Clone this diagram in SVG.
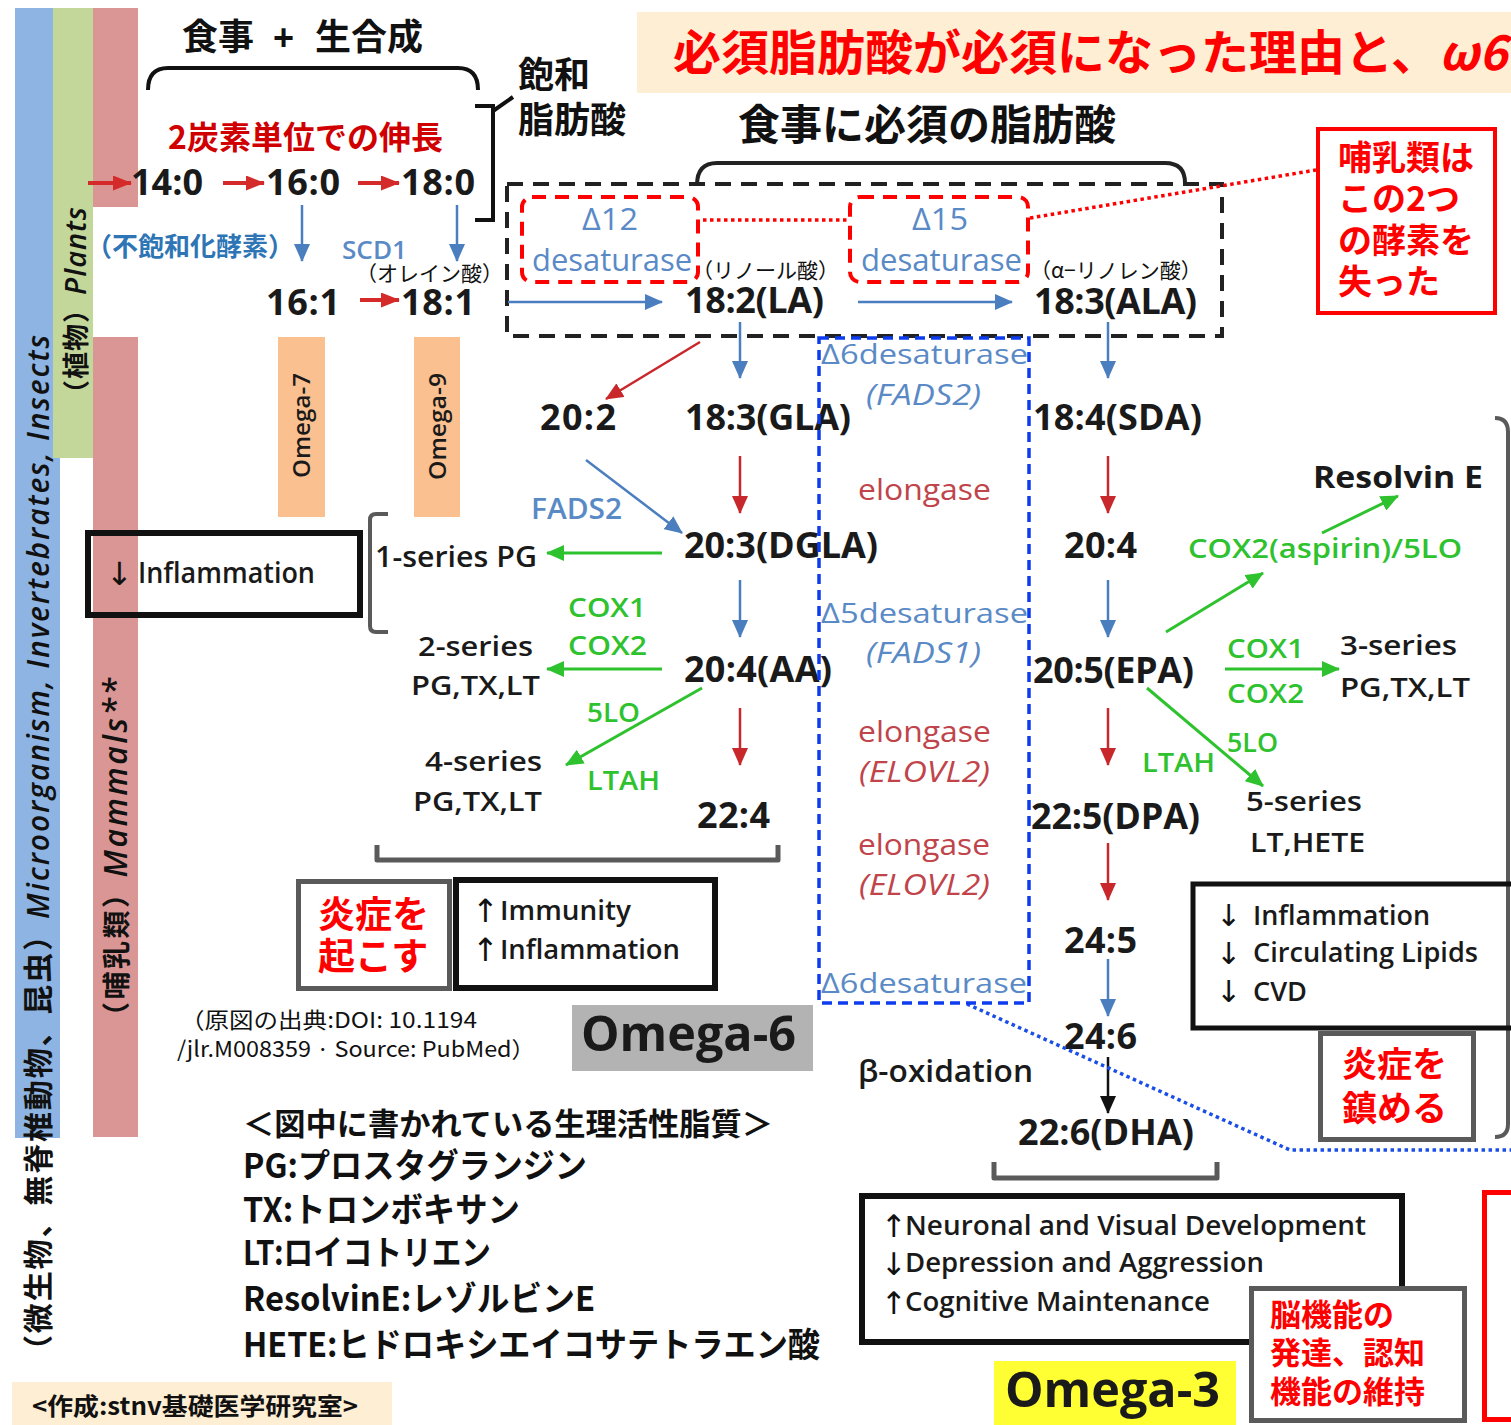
<svg xmlns="http://www.w3.org/2000/svg" width="1511" height="1425" viewBox="0 0 1511 1425">
<defs>
<style>
.num{font-family:"Open Sans","Liberation Sans",sans-serif;font-weight:700;font-size:36px;fill:#1a1a1a;}
.lab{font-family:"Open Sans","Liberation Sans",sans-serif;font-weight:600;font-size:27px;fill:#1a1a1a;}
.lbu{font-family:"Open Sans","Liberation Sans",sans-serif;font-size:27px;fill:#5a8ac6;}
.lrd{font-family:"Open Sans","Liberation Sans",sans-serif;font-size:27px;fill:#c0444a;}
.lgr{font-family:"Open Sans","Liberation Sans",sans-serif;font-weight:600;font-size:27px;fill:#2fc22f;}
.jp{font-family:"Noto Sans CJK JP","Noto Sans CJK SC",sans-serif;font-weight:700;fill:#111;}
.jpr{font-family:"Noto Sans CJK JP","Noto Sans CJK SC",sans-serif;font-weight:400;fill:#111;}
.red{fill:#ff0000;}
.ar{font-family:"DejaVu Sans",sans-serif;font-weight:400;fill:#111;}
.it{font-style:italic;}
.cb{fill:none;stroke:#4a7ebf;stroke-width:2.5;marker-end:url(#mB);}
.cr{fill:none;stroke:#c8282c;stroke-width:2.5;marker-end:url(#mR);}
.crl{fill:none;stroke:#d42a2a;stroke-width:4;marker-end:url(#mRL);}
.cg{fill:none;stroke:#2ec22e;stroke-width:3;marker-end:url(#mG);}
.ck{fill:none;stroke:#111;stroke-width:2.5;marker-end:url(#mK);}
.brk{fill:none;stroke:#5a5a5a;stroke-width:5;stroke-linejoin:round;}
.box{fill:none;stroke:#111;stroke-width:6;}
.gbox{fill:#fff;stroke:#5a5a5a;stroke-width:5;}
</style>
<marker id="mB" viewBox="0 0 18 16" markerUnits="userSpaceOnUse" markerWidth="18" markerHeight="16" refX="17" refY="8" orient="auto"><path d="M0,0 L18,8 L0,16 z" fill="#4a7ebf"/></marker>
<marker id="mR" viewBox="0 0 18 16" markerUnits="userSpaceOnUse" markerWidth="18" markerHeight="16" refX="17" refY="8" orient="auto"><path d="M0,0 L18,8 L0,16 z" fill="#c8282c"/></marker>
<marker id="mRL" viewBox="0 0 19 15" markerUnits="userSpaceOnUse" markerWidth="19" markerHeight="15" refX="18" refY="7.5" orient="auto"><path d="M0,0 L19,7.5 L0,15 z" fill="#d42a2a"/></marker>
<marker id="mG" viewBox="0 0 18 16" markerUnits="userSpaceOnUse" markerWidth="18" markerHeight="16" refX="17" refY="8" orient="auto"><path d="M0,0 L18,8 L0,16 z" fill="#2ec22e"/></marker>
<marker id="mK" viewBox="0 0 18 16" markerUnits="userSpaceOnUse" markerWidth="18" markerHeight="16" refX="17" refY="8" orient="auto"><path d="M0,0 L18,8 L0,16 z" fill="#111"/></marker>
</defs>

<rect x="0" y="0" width="1511" height="1425" fill="#ffffff"/>

<g id="bars">
<rect x="15" y="8" width="45" height="1130" fill="#8db4e2"/>
<rect x="53" y="8" width="40" height="450" fill="#c4d79b"/>
<rect x="93" y="8" width="45" height="199" fill="#da9694"/>
<rect x="93" y="337" width="45" height="800" fill="#da9694"/>
<rect x="278" y="337" width="47" height="180" fill="#fac090"/>
<rect x="414" y="337" width="46" height="180" fill="#fac090"/>
</g>
<g id="bar-microorganism"><text class="jp" style="font-size:30px" transform="translate(49,1365) rotate(-90)" textLength="1030" lengthAdjust="spacing">（微生物、無脊椎動物、昆虫）<tspan class="it" style="font-family:'Open Sans','Liberation Sans',sans-serif;font-weight:600">Microorganism, Invertebrates, Insects</tspan></text></g>
<g id="bar-plants"><text class="jp" style="font-size:27px" transform="translate(86,407) rotate(-90)" textLength="200" lengthAdjust="spacing">（植物）<tspan class="it" style="font-family:'Open Sans','Liberation Sans',sans-serif;font-weight:600;font-size:29px">Plants</tspan></text></g>
<g id="bar-mammals"><text class="jp" style="font-size:28px" transform="translate(127,1030) rotate(-90)" textLength="352" lengthAdjust="spacing">（哺乳類）<tspan class="it" style="font-family:'Open Sans','Liberation Sans',sans-serif;font-weight:600;font-size:32px">Mammals**</tspan></text></g>
<g id="omega7"><text class="lab" style="font-size:24px" transform="translate(310,478) rotate(-90)" textLength="105" lengthAdjust="spacingAndGlyphs">Omega-7</text></g>
<g id="omega9"><text class="lab" style="font-size:24px" transform="translate(446,480) rotate(-90)" textLength="107" lengthAdjust="spacingAndGlyphs">Omega-9</text></g>

<g id="title">
<rect x="637" y="12" width="874" height="81" fill="#fdeed4"/>
<text class="jp red" style="font-size:48px" x="673" y="70">必須脂肪酸が必須になった理由と、<tspan class="it">ω6</tspan></text>
</g>

<g id="diet-biosynthesis">
<text class="jp" style="font-size:36px" y="50"><tspan x="182">食事</tspan><tspan x="273" style="font-family:'Liberation Sans',sans-serif">+</tspan><tspan x="315">生合成</tspan></text>
<path d="M148,90 Q148,68 168,68 L458,68 Q478,68 478,90" fill="none" stroke="#111" stroke-width="4"/>
</g>
<g id="saturated-fa">
<text class="jp" style="font-size:36px" x="518" y="88">飽和</text>
<text class="jp" style="font-size:36px" x="518" y="133">脂肪酸</text>
<path d="M475,106 L493,106 L493,220 L475,220 M493,111 L513,97" fill="none" stroke="#111" stroke-width="4"/>
</g>
<g id="elongation-label"><text class="jp" x="168" y="149" style="font-size:32px;fill:#d00000">2炭素単位での伸長</text></g>
<g id="essential-label">
<text class="jp" style="font-size:42px" x="738" y="140">食事に必須の脂肪酸</text>
<path d="M697,185 Q697,163 717,163 L1165,163 Q1185,163 1185,183" fill="none" stroke="#222" stroke-width="4"/>
</g>

<g id="n14-0"><text class="num" x="131" y="195" textLength="72">14:0</text></g>
<g id="n16-0"><text class="num" x="266" y="195" textLength="74">16:0</text></g>
<g id="n18-0"><text class="num" x="401" y="195" textLength="74">18:0</text></g>
<g id="n16-1"><text class="num" x="266" y="315" textLength="74">16:1</text></g>
<g id="n18-1"><text class="num" x="401" y="315" textLength="74">18:1</text><text class="jpr" style="font-size:21px" x="356" y="281">（オレイン酸）</text></g>
<g id="n18-2"><text class="num" x="685" y="313" textLength="139">18:2(LA)</text><text class="jpr" style="font-size:21px" x="692" y="278">（リノール酸）</text></g>
<g id="n18-3ala"><text class="num" x="1034" y="314" textLength="163">18:3(ALA)</text><text class="jpr" style="font-size:21px" x="1030" y="278">（α−リノレン酸）</text></g>
<g id="n20-2"><text class="num" x="540" y="430" textLength="76">20:2</text></g>
<g id="n18-3gla"><text class="num" x="685" y="430" textLength="166">18:3(GLA)</text></g>
<g id="n18-4"><text class="num" x="1033" y="430" textLength="169">18:4(SDA)</text></g>
<g id="n20-3"><text class="num" x="684" y="558" textLength="194">20:3(DGLA)</text></g>
<g id="n20-4"><text class="num" x="1064" y="558" textLength="73">20:4</text></g>
<g id="n20-4aa"><text class="num" x="684" y="682" textLength="148">20:4(AA)</text></g>
<g id="n20-5"><text class="num" x="1033" y="683" textLength="161">20:5(EPA)</text></g>
<g id="n22-4"><text class="num" x="697" y="828" textLength="73">22:4</text></g>
<g id="n22-5"><text class="num" x="1031" y="829" textLength="169">22:5(DPA)</text></g>
<g id="n24-5"><text class="num" x="1064" y="953" textLength="73">24:5</text></g>
<g id="n24-6"><text class="num" x="1064" y="1049" textLength="73">24:6</text></g>
<g id="n22-6"><text class="num" x="1018" y="1145" textLength="176">22:6(DHA)</text></g>

<g id="desat-label"><text class="jp" x="86" y="256" style="font-size:26px;fill:#2e75b6">（不飽和化酵素）</text></g>
<g id="scd1"><text class="lbu" style="font-size:26px;font-weight:600" x="342" y="259" textLength="65" lengthAdjust="spacingAndGlyphs">SCD1</text></g>
<g id="d12">
<text class="lbu" style="font-size:31px" x="582" y="230" textLength="56" lengthAdjust="spacingAndGlyphs">Δ12</text>
<text class="lbu" style="font-size:31px" x="532" y="271" textLength="160" lengthAdjust="spacingAndGlyphs">desaturase</text>
</g>
<g id="d15">
<text class="lbu" style="font-size:31px" x="912" y="230" textLength="56" lengthAdjust="spacingAndGlyphs">Δ15</text>
<text class="lbu" style="font-size:31px" x="861" y="271" textLength="161" lengthAdjust="spacingAndGlyphs">desaturase</text>
</g>
<g id="d6-top">
<text class="lbu" style="font-size:28px" x="821" y="364" textLength="207" lengthAdjust="spacingAndGlyphs">Δ6desaturase</text>
<text class="lbu it" style="font-size:29px" x="866" y="405" textLength="115" lengthAdjust="spacingAndGlyphs">(FADS2)</text>
</g>
<g id="elong1"><text class="lrd" style="font-size:29px" x="858" y="500" textLength="133" lengthAdjust="spacingAndGlyphs">elongase</text></g>
<g id="d5">
<text class="lbu" style="font-size:28px" x="821" y="623" textLength="207" lengthAdjust="spacingAndGlyphs">Δ5desaturase</text>
<text class="lbu it" style="font-size:29px" x="866" y="663" textLength="115" lengthAdjust="spacingAndGlyphs">(FADS1)</text>
</g>
<g id="elong2">
<text class="lrd" style="font-size:29px" x="858" y="742" textLength="133" lengthAdjust="spacingAndGlyphs">elongase</text>
<text class="lrd it" style="font-size:29px" x="859" y="782" textLength="131" lengthAdjust="spacingAndGlyphs">(ELOVL2)</text>
</g>
<g id="elong3">
<text class="lrd" style="font-size:29px" x="858" y="855" textLength="132" lengthAdjust="spacingAndGlyphs">elongase</text>
<text class="lrd it" style="font-size:29px" x="859" y="895" textLength="131" lengthAdjust="spacingAndGlyphs">(ELOVL2)</text>
</g>
<g id="d6-bottom"><text class="lbu" style="font-size:28px" x="821" y="993" textLength="206" lengthAdjust="spacingAndGlyphs">Δ6desaturase</text></g>
<g id="fads2"><text class="lbu" style="font-size:28px;font-weight:600" x="531" y="519" textLength="91" lengthAdjust="spacingAndGlyphs">FADS2</text></g>

<g id="series1"><text class="lab" style="font-size:29px" x="375" y="567" textLength="162" lengthAdjust="spacingAndGlyphs">1-series PG</text></g>
<g id="cox-6">
<text class="lgr" x="568" y="617" textLength="78" lengthAdjust="spacingAndGlyphs">COX1</text>
<text class="lgr" x="568" y="655" textLength="79" lengthAdjust="spacingAndGlyphs">COX2</text>
</g>
<g id="series2">
<text class="lab" x="418" y="656" textLength="115" lengthAdjust="spacingAndGlyphs">2-series</text>
<text class="lab" x="411" y="695" textLength="129" lengthAdjust="spacingAndGlyphs">PG,TX,LT</text>
</g>
<g id="lo-6">
<text class="lgr" x="587" y="722" textLength="53" lengthAdjust="spacingAndGlyphs">5LO</text>
<text class="lgr" x="587" y="790" textLength="73" lengthAdjust="spacingAndGlyphs">LTAH</text>
</g>
<g id="series4">
<text class="lab" x="425" y="771" textLength="117" lengthAdjust="spacingAndGlyphs">4-series</text>
<text class="lab" x="413" y="811" textLength="129" lengthAdjust="spacingAndGlyphs">PG,TX,LT</text>
</g>

<g id="resolvin"><text class="num" style="font-size:31px" x="1313" y="488" textLength="170" lengthAdjust="spacingAndGlyphs">Resolvin E</text></g>
<g id="cox2asp"><text class="lgr" x="1188" y="558" textLength="274" lengthAdjust="spacingAndGlyphs">COX2(aspirin)/5LO</text></g>
<g id="cox-3">
<text class="lgr" x="1227" y="658" textLength="77" lengthAdjust="spacingAndGlyphs">COX1</text>
<text class="lgr" x="1227" y="703" textLength="77" lengthAdjust="spacingAndGlyphs">COX2</text>
</g>
<g id="series3">
<text class="lab" x="1340" y="655" textLength="117" lengthAdjust="spacingAndGlyphs">3-series</text>
<text class="lab" x="1340" y="697" textLength="130" lengthAdjust="spacingAndGlyphs">PG,TX,LT</text>
</g>
<g id="lo-3">
<text class="lgr" x="1227" y="752" textLength="51" lengthAdjust="spacingAndGlyphs">5LO</text>
<text class="lgr" x="1142" y="772" textLength="73" lengthAdjust="spacingAndGlyphs">LTAH</text>
</g>
<g id="series5">
<text class="lab" x="1246" y="811" textLength="116" lengthAdjust="spacingAndGlyphs">5-series</text>
<text class="lab" x="1250" y="852" textLength="115" lengthAdjust="spacingAndGlyphs">LT,HETE</text>
</g>
<g id="beta-ox"><text class="lab" style="font-size:30px" x="858" y="1082" textLength="175" lengthAdjust="spacingAndGlyphs">β-oxidation</text></g>

<g id="essential-box">
<rect x="507" y="184" width="715" height="152" fill="none" stroke="#222" stroke-width="4" stroke-dasharray="16 10"/>
</g>
<g id="lost-enzymes">
<rect x="522" y="197" width="176" height="85" rx="10" fill="none" stroke="#ff0000" stroke-width="4" stroke-dasharray="14 9"/>
<rect x="850" y="197" width="178" height="85" rx="10" fill="none" stroke="#ff0000" stroke-width="4" stroke-dasharray="14 9"/>
</g>
<g id="mammals-note">
<rect x="1318" y="129" width="177" height="184" fill="#fff" stroke="#ff0000" stroke-width="4"/>
<text class="jp red" style="font-size:34px" x="1338" y="170">哺乳類は</text>
<text class="jp red" style="font-size:34px" x="1338" y="211">この2つ</text>
<text class="jp red" style="font-size:34px" x="1338" y="253">の酵素を</text>
<text class="jp red" style="font-size:34px" x="1338" y="294">失った</text>
</g>
<g id="inflammation-down">
<rect x="88" y="533" width="272" height="82" class="box"/>
<text class="ar" style="font-size:32px" x="106" y="585">↓</text>
<text class="lab" style="font-size:28px" x="138" y="583" textLength="177" lengthAdjust="spacingAndGlyphs">Inflammation</text>
</g>
<g id="brackets">
<path d="M388,514 L376,514 Q370,514 370,520 L370,626 Q370,632 376,632 L388,632" fill="none" stroke="#5a5a5a" stroke-width="4"/>
<path d="M377,845 L377,860 L778,860 L778,845" class="brk"/>
<path d="M994,1162 L994,1178 L1217,1178 L1217,1162" class="brk"/>
<path d="M1495,418 Q1508,418 1508,432 L1508,1124 Q1508,1137 1495,1137" fill="none" stroke="#5a5a5a" stroke-width="4"/>
</g>
<g id="cause-inflammation">
<rect x="298.5" y="881.5" width="151" height="107" class="gbox"/>
<text class="jp red" style="font-size:37px" x="318" y="928">炎症を</text>
<text class="jp red" style="font-size:37px" x="318" y="970">起こす</text>
</g>
<g id="immunity-box">
<rect x="456" y="880" width="259" height="108" class="box"/>
<text class="ar" style="font-size:32px" x="472" y="922">↑</text>
<text class="lab" x="500" y="920" textLength="131" lengthAdjust="spacingAndGlyphs">Immunity</text>
<text class="ar" style="font-size:32px" x="472" y="961">↑</text>
<text class="lab" x="500" y="959" textLength="180" lengthAdjust="spacingAndGlyphs">Inflammation</text>
</g>
<g id="source">
<text class="jpr" style="font-size:22px" x="180" y="1028" textLength="297" lengthAdjust="spacingAndGlyphs">（原図の出典:DOI: 10.1194</text>
<text class="jpr" style="font-size:22px" x="177" y="1057" textLength="358" lengthAdjust="spacingAndGlyphs">/jlr.M008359 · Source: PubMed）</text>
</g>
<g id="omega6-label">
<rect x="572" y="1005" width="241" height="66" fill="#b3b3b3"/>
<text class="num" style="font-size:49px" x="581" y="1051" textLength="215" lengthAdjust="spacingAndGlyphs">Omega-6</text>
</g>
<g id="glossary">
<text class="jp" style="font-size:31px" x="243" y="1135" textLength="530" lengthAdjust="spacingAndGlyphs">＜図中に書かれている生理活性脂質＞</text>
<text class="jp" style="font-size:34px" x="243" y="1178" textLength="344" lengthAdjust="spacingAndGlyphs">PG:プロスタグランジン</text>
<text class="jp" style="font-size:34px" x="243" y="1222" textLength="277" lengthAdjust="spacingAndGlyphs">TX:トロンボキサン</text>
<text class="jp" style="font-size:34px" x="243" y="1265" textLength="248" lengthAdjust="spacingAndGlyphs">LT:ロイコトリエン</text>
<text class="jp" style="font-size:34px" x="243" y="1311" textLength="352" lengthAdjust="spacingAndGlyphs">ResolvinE:レゾルビンE</text>
<text class="jp" style="font-size:34px" x="243" y="1357" textLength="577" lengthAdjust="spacingAndGlyphs">HETE:ヒドロキシエイコサテトラエン酸</text>
</g>
<g id="credit">
<rect x="12" y="1382" width="380" height="43" fill="#fdeed4"/>
<text class="jp" style="font-size:24px" x="32" y="1415" textLength="326" lengthAdjust="spacingAndGlyphs">&lt;作成:stnv基礎医学研究室&gt;</text>
</g>
<g id="omega3-effects-box">
<rect x="1193" y="884" width="330" height="144" fill="none" stroke="#111" stroke-width="5"/>
<text class="ar" style="font-size:30px" x="1216" y="926">↓</text>
<text class="lab" style="font-size:27px" x="1253" y="925" textLength="177" lengthAdjust="spacingAndGlyphs">Inflammation</text>
<text class="ar" style="font-size:30px" x="1216" y="964">↓</text>
<text class="lab" style="font-size:27px" x="1253" y="962" textLength="225" lengthAdjust="spacingAndGlyphs">Circulating Lipids</text>
<text class="ar" style="font-size:30px" x="1216" y="1002">↓</text>
<text class="lab" style="font-size:27px" x="1253" y="1001" textLength="54" lengthAdjust="spacingAndGlyphs">CVD</text>
</g>
<g id="suppress-inflammation">
<rect x="1320.5" y="1033.5" width="153" height="106" class="gbox"/>
<text class="jp red" style="font-size:35px" x="1342" y="1077">炎症を</text>
<text class="jp red" style="font-size:35px" x="1342" y="1121">鎮める</text>
</g>
<g id="dha-effects-box">
<rect x="862" y="1196" width="540" height="146" class="box"/>
<text class="ar" style="font-size:31px" x="881" y="1237">↑</text>
<text class="lab" style="font-size:27px" x="905" y="1235" textLength="461" lengthAdjust="spacingAndGlyphs">Neuronal and Visual  Development</text>
<text class="ar" style="font-size:31px" x="881" y="1275">↓</text>
<text class="lab" style="font-size:27px" x="905" y="1272" textLength="359" lengthAdjust="spacingAndGlyphs">Depression and Aggression</text>
<text class="ar" style="font-size:31px" x="881" y="1314">↑</text>
<text class="lab" style="font-size:27px" x="905" y="1311" textLength="305" lengthAdjust="spacingAndGlyphs">Cognitive Maintenance</text>
</g>
<g id="omega3-label">
<rect x="994" y="1361" width="242" height="64" fill="#ffff33"/>
<text class="num" style="font-size:49px" x="1005" y="1407" textLength="215" lengthAdjust="spacingAndGlyphs">Omega-3</text>
</g>
<g id="brain-note">
<rect x="1251.5" y="1288.5" width="213" height="132" class="gbox"/>
<text class="jp red" style="font-size:31px" x="1270" y="1326">脳機能の</text>
<text class="jp red" style="font-size:31px" x="1270" y="1364">発達、認知</text>
<text class="jp red" style="font-size:31px" x="1270" y="1403">機能の維持</text>
</g>
<g id="cut-note"><rect x="1484.5" y="1192.5" width="60" height="227" fill="none" stroke="#ff0000" stroke-width="5"/></g>

<g id="connectors">
<line x1="88" y1="183" x2="131" y2="183" class="crl"/>
<line x1="223" y1="183" x2="264" y2="183" class="crl"/>
<line x1="358" y1="183" x2="399" y2="183" class="crl"/>
<line x1="360" y1="300" x2="399" y2="300" class="crl"/>
<line x1="302" y1="205" x2="302" y2="261" class="cb"/>
<line x1="457" y1="205" x2="457" y2="261" class="cb"/>
<line x1="508" y1="302" x2="662" y2="302" class="cb"/>
<line x1="858" y1="302" x2="1012" y2="302" class="cb"/>
<line x1="740" y1="322" x2="740" y2="378" class="cb"/>
<line x1="700" y1="342" x2="606" y2="399" class="cr"/>
<line x1="740" y1="456" x2="740" y2="513" class="cr"/>
<line x1="586" y1="460" x2="682" y2="533" class="cb"/>
<line x1="740" y1="580" x2="740" y2="637" class="cb"/>
<line x1="740" y1="708" x2="740" y2="765" class="cr"/>
<line x1="662" y1="553" x2="547" y2="553" class="cg"/>
<line x1="662" y1="669" x2="547" y2="669" class="cg"/>
<line x1="702" y1="688" x2="566" y2="765" class="cg"/>
<line x1="1108" y1="322" x2="1108" y2="378" class="cb"/>
<line x1="1108" y1="456" x2="1108" y2="513" class="cr"/>
<line x1="1108" y1="580" x2="1108" y2="637" class="cb"/>
<line x1="1108" y1="708" x2="1108" y2="765" class="cr"/>
<line x1="1108" y1="843" x2="1108" y2="900" class="cr"/>
<line x1="1108" y1="959" x2="1108" y2="1016" class="cb"/>
<line x1="1108" y1="1057" x2="1108" y2="1113" class="ck"/>
<line x1="1322" y1="533" x2="1398" y2="496" class="cg"/>
<line x1="1166" y1="632" x2="1263" y2="573" class="cg"/>
<line x1="1225" y1="669" x2="1339" y2="669" class="cg"/>
<line x1="1147" y1="688" x2="1263" y2="786" class="cg"/>
<line x1="703" y1="220" x2="848" y2="220" stroke="#ff0000" stroke-width="3.5" stroke-dasharray="3.5 3.5"/>
<line x1="1030" y1="218" x2="1316" y2="170" stroke="#ff0000" stroke-width="3.5" stroke-dasharray="3.5 3.5"/>
<polyline points="967,1004 1290,1150 1511,1150" fill="none" stroke="#1a4ee8" stroke-width="3.5" stroke-dasharray="3.5 3.5"/>
</g>

<g id="fads-region"><rect x="819" y="338" width="210" height="665" fill="none" stroke="#0d3cf0" stroke-width="3.5" stroke-dasharray="10 6"/></g>
</svg>
